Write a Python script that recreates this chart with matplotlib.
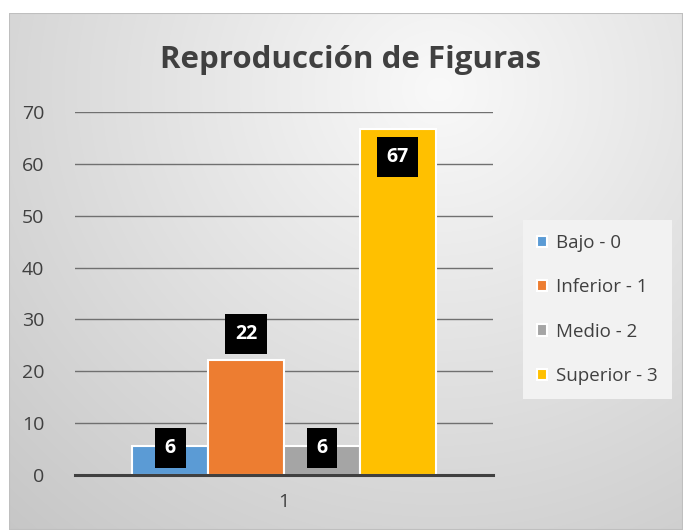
import numpy as np
import matplotlib
matplotlib.use('Agg')
from matplotlib import pyplot as plt
from matplotlib.patches import Rectangle

categories = ['Bajo - 0', 'Inferior - 1', 'Medio - 2', 'Superior - 3']
values = [5.6, 22.2, 5.6, 66.7]
labels = ['6', '22', '6', '67']
colors = ['#5B9BD5', '#ED7D31', '#A5A5A5', '#FFC000']
label_offsets = [-0.4, 5.0, -0.4, -5.4]   # label centre relative to bar top, data units
yticks = [0, 10, 20, 30, 40, 50, 60, 70]
xtick_label = '1'

plt.rcParams['font.family'] = ['Open Sans', 'DejaVu Sans']

W, H = 683, 530
fig = plt.figure(figsize=(W / 100, H / 100), dpi=100)
fig.patch.set_facecolor('white')

# chart area background: radial grey gradient
bg = fig.add_axes([9 / W, 0, 1 - 9 / W, 1 - 13 / H], zorder=-10)
yy, xx = np.mgrid[0:517, 0:674]
d = np.sqrt(((xx - 430) / 1.0) ** 2 + ((yy - 440) / 0.95) ** 2)
g = np.clip(249 - 0.08 * d, 198, 250) / 255.0
bg.imshow(np.dstack([g, g, g]), aspect='auto', extent=[0, 1, 0, 1], origin='lower')
bg.set_axis_off()
bg.add_patch(Rectangle((0, 0), 1, 1, transform=bg.transAxes, fill=False,
                       edgecolor='#BFBFBF', lw=1.5))

ax = fig.add_axes([75 / W, 1 - 475 / H, (493 - 75) / W, (475 - 112) / H])
ax.set_facecolor('none')
x = np.arange(len(values))
bars = ax.bar(x, values, width=1.0, color=colors, edgecolor='white', linewidth=1.5,
              zorder=3)

ax.set_xlim(1.5 - 2.759, 1.5 + 2.759)
ax.set_ylim(0, 70)
ax.set_yticks(yticks)
ax.set_yticklabels([str(t) for t in yticks], fontsize=14, color='#404040')
ax.set_xticks([1.5])
ax.set_xticklabels([xtick_label], fontsize=14, color='#404040')
ax.tick_params(axis='both', length=0)
ax.tick_params(axis='y', pad=22)
ax.tick_params(axis='x', pad=13)
ax.yaxis.grid(True, color='#707070', lw=1.0, zorder=1)
for s in ['top', 'right', 'left']:
    ax.spines[s].set_visible(False)
ax.spines['bottom'].set_color('#404040')
ax.spines['bottom'].set_linewidth(2.2)
ax.spines['bottom'].set_zorder(4)

for xi, v, lab, off in zip(x, values, labels, label_offsets):
    ax.text(xi, v + off, lab, ha='center', va='center', color='white',
            fontsize=14, fontweight='bold', zorder=6,
            bbox=dict(boxstyle='square,pad=0.5', facecolor='black', edgecolor='none'))

fig.text(351 / W, 1 - 60 / H, 'Reproducción de Figuras', ha='center', va='center',
         fontsize=22.5, fontweight='bold', color='#404040')

leg = fig.legend(handles=list(bars), labels=categories, loc='upper left',
                 bbox_to_anchor=(523 / W, 1 - 220 / H), borderaxespad=0,
                 frameon=True, fontsize=13.5, prop={'size': 13.5},
                 labelcolor='#404040', handlelength=0.55, handleheight=0.55,
                 handletextpad=0.45, labelspacing=1.4, borderpad=0.75, fancybox=False)
leg.get_frame().set_facecolor('#F2F2F2')
leg.get_frame().set_edgecolor('none')
leg.get_frame().set_alpha(1)

fig.savefig('out.png', dpi=100)
